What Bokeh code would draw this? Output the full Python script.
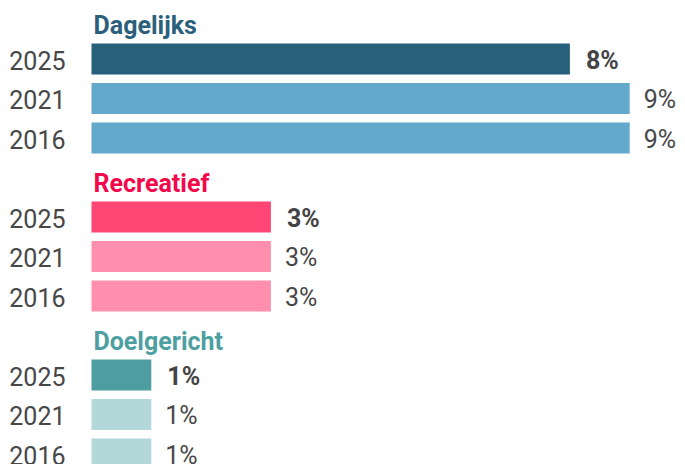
from bokeh.plotting import figure
from bokeh.models import Range1d, ColumnDataSource
from bokeh.core.properties import value
from bokeh.embed import file_html
from bokeh.resources import INLINE

groups = ["Dagelijks", "Recreatief", "Doelgericht"]
years = ["2025", "2021", "2016"]
dagelijks = [8, 9, 9]
recreatief = [3, 3, 3]
doelgericht = [1, 1, 1]
group_values = [dagelijks, recreatief, doelgericht]

header_colors = ["#2B5F7B", "#F2084B", "#4E9FA2"]
main_colors = ["#285F7A", "#FF4674", "#4E9EA1"]
light_colors = ["#62A9CC", "#FF8FAC", "#B2D8DA"]

# build rows: header row followed by one row per year
bar_y, bar_v, bar_c, bar_lbl, bar_yr, bar_bold = [], [], [], [], [], []
head_y, head_t, head_c = [], [], []
row = 0
for gi, g in enumerate(groups):
    head_y.append(row)
    head_t.append(g)
    head_c.append(header_colors[gi])
    row += 1
    for yi, yr in enumerate(years):
        v = group_values[gi][yi]
        bar_y.append(row)
        bar_v.append(v)
        bar_c.append(main_colors[gi] if yi == 0 else light_colors[gi])
        bar_lbl.append(f"{v}%")
        bar_yr.append(yr)
        bar_bold.append(yi == 0)
        row += 1

W, H = 685, 464
px_per_unit = 59.8
row_px = 39.5
x0 = -91 / px_per_unit
x1 = x0 + W / px_per_unit
ytop = -19 / row_px
ybot = ytop + H / row_px

p = figure(width=W, height=H, output_backend="svg", toolbar_location=None,
           x_range=Range1d(x0, x1), y_range=Range1d(ybot, ytop),
           min_border=0, min_border_left=0, min_border_right=0,
           min_border_top=0, min_border_bottom=0)
p.axis.visible = False
p.grid.visible = False
p.outline_line_color = None
p.background_fill_color = "white"
p.border_fill_color = "white"

src = ColumnDataSource(dict(y=bar_y, v=bar_v, c=bar_c, lbl=bar_lbl, yr=bar_yr,
                            zero=[0] * len(bar_y)))
p.hbar(y="y", left="zero", right="v", height=0.785, fill_color="c",
       line_color=None, source=src)

# year labels
p.text(x=[x0 + 65 / px_per_unit] * len(bar_y), y=bar_y, text=bar_yr,
       text_align="right", text_baseline="middle", y_offset=1,
       text_font=value("Roboto"), text_font_size="25px", text_color="#474747")

# value labels
bold_idx = [i for i, b in enumerate(bar_bold) if b]
norm_idx = [i for i, b in enumerate(bar_bold) if not b]
p.text(x=[bar_v[i] for i in bold_idx], y=[bar_y[i] for i in bold_idx],
       text=[bar_lbl[i] for i in bold_idx], x_offset=16, y_offset=1,
       text_baseline="middle", text_font=value("Roboto"),
       text_font_style="bold", text_font_size="25px", text_color="#444444")
p.text(x=[bar_v[i] for i in norm_idx], y=[bar_y[i] for i in norm_idx],
       text=[bar_lbl[i] for i in norm_idx], x_offset=14, y_offset=1,
       text_baseline="middle", text_font=value("Roboto"),
       text_font_size="25px", text_color="#474747")

# group headers
p.text(x=[0] * len(head_y), y=head_y, text=head_t, text_color=head_c,
       x_offset=2, y_offset=6, text_baseline="middle",
       text_font=value("Roboto"), text_font_style="bold", text_font_size="25px")

open("out.html", "w").write(file_html(p, INLINE))
